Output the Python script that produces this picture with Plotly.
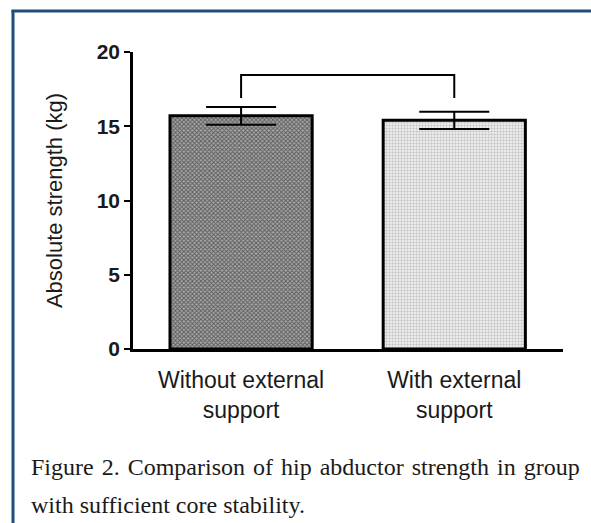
import plotly.graph_objects as go

categories = ["Without external<br>support", "With external<br>support"]
means = [15.7, 15.4]
sd = [0.6, 0.58]
bracket_top = 18.45
bracket_leg_bottom = 16.9
y_ticks = [0, 5, 10, 15, 20]
y_title = "Absolute strength (kg)"
caption_l1 = "Figure 2. Comparison of hip abductor strength in group"
caption_l2 = "with sufficient core stability."

W, H = 591, 523
PL, PR, PT, PB = 133, 563, 52, 349          # plot area in page pixels
L, T = PL, PT
R, B = W - PR, H - PB
pw, ph = W - L - R, H - T - B

def px_x(p):
    return (p - L) / pw

def px_y(p):
    return (H - B - p) / ph

fig = go.Figure()

fig.add_trace(go.Bar(
    x=[categories[0]], y=[means[0]], width=0.667,
    marker=dict(color="#6e6e6e", line=dict(color="black", width=3),
                pattern=dict(shape="x", size=3, solidity=0.55, fgcolor="#111", bgcolor="#a8a8a8")),
    error_y=dict(type="data", array=[sd[0]], visible=True, color="black", thickness=2, width=35),
    showlegend=False,
))
fig.add_trace(go.Bar(
    x=[categories[1]], y=[means[1]], width=0.667,
    marker=dict(color="#e0e0e0", line=dict(color="black", width=3),
                pattern=dict(shape=".", size=3, solidity=0.5, fgcolor="#999", bgcolor="#f5f5f5")),
    error_y=dict(type="data", array=[sd[1]], visible=True, color="black", thickness=2, width=35),
    showlegend=False,
))

fig.add_trace(go.Scatter(
    x=[categories[0], categories[0], categories[1], categories[1]],
    y=[bracket_leg_bottom, bracket_top, bracket_top, bracket_leg_bottom],
    mode="lines", line=dict(color="black", width=2), showlegend=False, hoverinfo="skip",
))

border = "#1f4e79"
fig.add_shape(type="line", xref="paper", yref="paper",
              x0=px_x(13), x1=px_x(13), y0=px_y(10), y1=px_y(540),
              line=dict(color=border, width=3))
fig.add_shape(type="line", xref="paper", yref="paper",
              x0=px_x(11.5), x1=px_x(610), y0=px_y(11), y1=px_y(11),
              line=dict(color=border, width=3))

hs = "\u200a"
serif = dict(family="Liberation Serif, Times New Roman", size=24, color="#1a1a1a")
fig.add_annotation(text=caption_l1.replace(" ", " " + hs), xref="paper", yref="paper",
                   x=px_x(29), y=px_y(467), xanchor="left", yanchor="middle",
                   showarrow=False, font=serif)
fig.add_annotation(text=caption_l2, xref="paper", yref="paper",
                   x=px_x(29), y=px_y(505), xanchor="left", yanchor="middle",
                   showarrow=False, font=serif)

fig.update_layout(
    width=W, height=H,
    margin=dict(l=L, r=R, t=T, b=B, autoexpand=False),
    paper_bgcolor="white", plot_bgcolor="white",
    font=dict(family="Liberation Sans, Arial", color="#1a1a1a"),
    xaxis=dict(range=[-0.507, 1.51], showline=True, linecolor="black", linewidth=2.5,
               ticks="", showgrid=False, zeroline=False, ticklabelstandoff=9,
               tickfont=dict(size=23, color="#1a1a1a"), fixedrange=True),
    yaxis=dict(range=[0, 20], tickvals=y_ticks, showline=True, linecolor="black", linewidth=2.5,
               ticks="outside", ticklen=6, tickwidth=2, tickcolor="black",
               showgrid=False, zeroline=False,
               tickfont=dict(size=21, color="#1a1a1a", weight="bold"),
               title=dict(text=y_title, font=dict(size=22, color="#1a1a1a"), standoff=28)),
)

fig.write_html("out.html", config={"displayModeBar": False},
               post_script="document.body.style.margin='0';document.body.style.overflow='hidden';")
